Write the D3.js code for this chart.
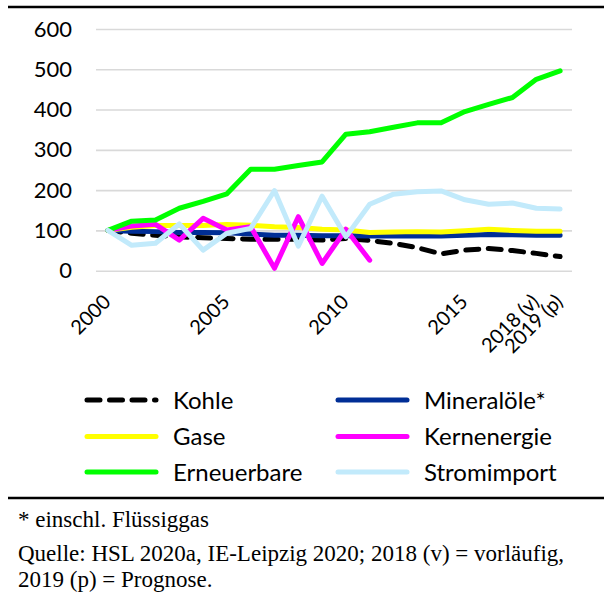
<!DOCTYPE html>
<html><head><meta charset="utf-8">
<script src="https://cdn.jsdelivr.net/npm/d3@7"></script>
<style>
body{margin:0;background:#fff;}
svg{display:block;}
</style></head>
<body>
<script>
const years = ["2000","2001","2002","2003","2004","2005","2006","2007","2008","2009","2010","2011","2012","2013","2014","2015","2016","2017","2018 (v)","2019 (p)"];
const shownLabels = ["2000","2005","2010","2015","2018 (v)","2019 (p)"];
const yTicks = [0,100,200,300,400,500,600];
const kohle = [100,93,88,84,82,80,78,78,78,76,80,75,68,57,42,51,55,50,43,35];
const mineraloele = [100,98,97,95,95,94,91,88,88,87,87,86,86,86,86,88,90,89,88,88];
const gase = [100,108,112,112,112,115,113,109,107,103,101,95,96,97,96,99,103,100,98,98];
const kernenergie = [100,111,115,76,130,101,109,6,134,18,103,26];
const erneuerbare = [100,123,126,155,172,191,252,252,261,270,339,345,356,367,367,395,413,430,475,496];
const stromimport = [100,63,68,116,51,93,105,199,61,185,84,165,190,196,198,176,165,168,155,153];
const seriesNames = ["Kohle","Mineralöle*","Gase","Kernenergie","Erneuerbare","Stromimport"];
const seriesColors = ["#000000","#002E96","#FFFF00","#FF00FF","#00FF00","#C2EAFB"];
const seriesData = [kohle, mineraloele, gase, kernenergie, erneuerbare, stromimport];

const W=604,H=603;
const svg=d3.select("body").append("svg").attr("width",W).attr("height",H);
const font="Lato, 'Open Sans', sans-serif";

const x=d3.scaleBand().domain(years).range([96,572]);
const y=d3.scaleLinear().domain([0,600]).range([270.7,29]);
const cx=d=>x(d)+x.bandwidth()/2;

// frame lines
svg.append("line").attr("x1",8).attr("x2",W).attr("y1",7).attr("y2",7).attr("stroke","#000").attr("stroke-width",2.5);
svg.append("line").attr("x1",8).attr("x2",W).attr("y1",498).attr("y2",498).attr("stroke","#000").attr("stroke-width",2.5);

// gridlines
const gy=d3.axisLeft(y).tickValues(yTicks).tickSize(-(572-96)).tickFormat(d3.format("d"));
const gAx=svg.append("g").attr("transform","translate(96,0)").call(gy);
gAx.select(".domain").remove();
gAx.selectAll(".tick line").attr("stroke","#D9D9D9").attr("stroke-width",1.6);
gAx.selectAll(".tick text").attr("x",-24).attr("font-family",font).attr("font-size",22).attr("fill","#000");

// x labels
const xa=d3.axisBottom(x).tickValues(shownLabels).tickSize(0);
const xg=svg.append("g").call(xa);
xg.select(".domain").remove();
xg.selectAll(".tick").attr("transform",null);
xg.selectAll(".tick text")
  .attr("y",null).attr("dy",null)
  .attr("text-anchor","end")
  .attr("font-family",font).attr("font-size",20).attr("fill","#000")
  .attr("transform",d=>`translate(${cx(d)+4},303) rotate(-45)`);

// lines
const line=d3.line().x((d,i)=>cx(years[i])).y(d=>y(d));
seriesData.forEach((s,k)=>{
  const p=svg.append("path").datum(s).attr("d",line).attr("fill","none")
    .attr("stroke",seriesColors[k]).attr("stroke-width",5)
    .attr("stroke-linejoin","round").attr("stroke-linecap","round");
  if(k===0) p.attr("stroke-dasharray","13,9.5");
});

// legend
const legX=[87,338], legY=[400,436.5,472];
seriesNames.forEach((n,k)=>{
  const col=k%2,row=Math.floor(k/2);
  const g=svg.append("g").attr("transform",`translate(${legX[col]},${legY[row]})`);
  const l=g.append("line").attr("x1",0).attr("x2",69).attr("y1",0).attr("y2",0)
    .attr("stroke",seriesColors[k]).attr("stroke-width",5).attr("stroke-linecap","round");
  if(k===0) l.attr("stroke-dasharray","13,9.5");
  g.append("text").attr("x",86).attr("y",8.5).attr("font-family",font).attr("font-size",24).attr("fill","#000").text(n);
});

// footer
const serif="'Liberation Serif','Times New Roman',serif";
svg.append("text").attr("x",18).attr("y",527).attr("font-family",serif).attr("font-size",23).text("* einschl. Flüssiggas");
svg.append("text").attr("x",18).attr("y",561).attr("font-family",serif).attr("font-size",23).text("Quelle: HSL 2020a, IE-Leipzig 2020; 2018 (v) = vorläufig,");
svg.append("text").attr("x",18).attr("y",587).attr("font-family",serif).attr("font-size",23).text("2019 (p) = Prognose.");
</script>
</body></html>
